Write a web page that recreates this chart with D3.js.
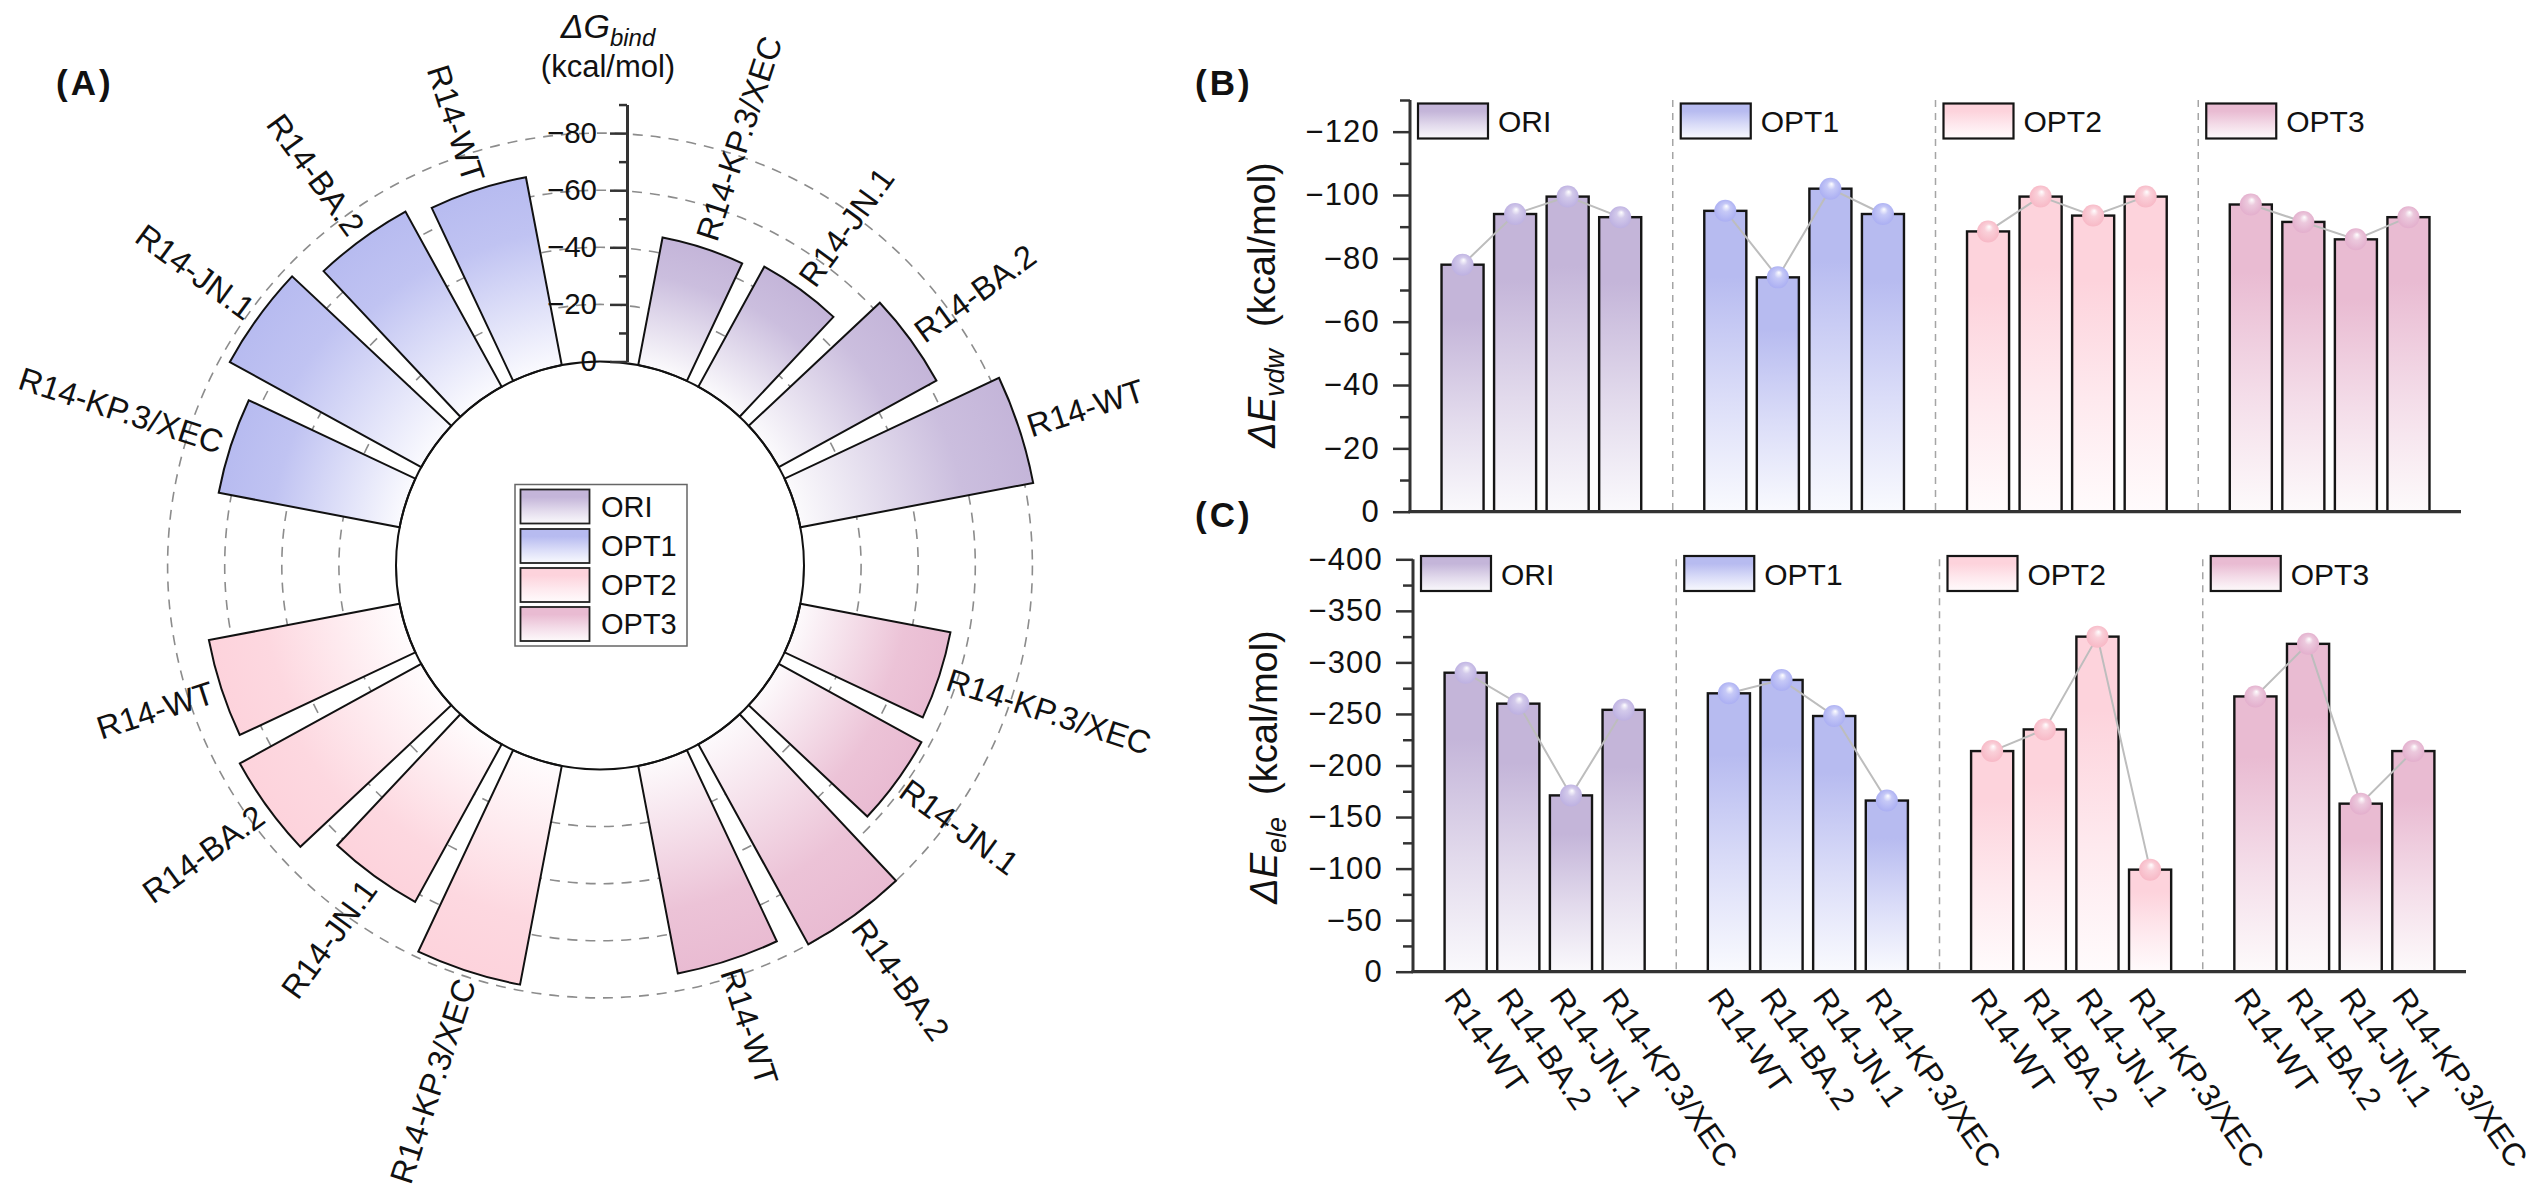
<!DOCTYPE html>
<html><head><meta charset="utf-8">
<script src="https://cdn.jsdelivr.net/npm/d3@7"></script>
<style>body{margin:0;background:#fff;} svg text{font-family:"Liberation Sans", Arial, Helvetica, sans-serif;}</style>
</head><body>
<svg id="chart" width="2538" height="1192" xmlns="http://www.w3.org/2000/svg"></svg>
<script>
// ---------------- DATA ----------------
const groups = ["ORI", "OPT1", "OPT2", "OPT3"];
const variants = ["R14-WT", "R14-BA.2", "R14-JN.1", "R14-KP.3/XEC"];
const groupColors = ["#c4b5d9", "#b7bbf0", "#fdd3dc", "#e9bbd2"];
const pointColors = ["#bbaee0", "#a8acf2", "#f7b6c4", "#e2accb"];

// Panel A: ΔG_bind (kcal/mol)
const dGbind_ORI  = [-83, -63, -48, -45.5];
const dGbind_OPT1 = [-67, -70, -76.5, -64.5];
const dGbind_OPT2 = [-68, -72.5, -63, -78];
const dGbind_OPT3 = [-74, -80, -57, -53.5];
const ticksA_major = [0, -20, -40, -60, -80];
const ticksA_minor = [-10, -30, -50, -70, -90];
const gridA = [-20, -40, -60, -80];

// Panel B: ΔE_vdw (kcal/mol)
const dEvdw_ORI  = [-78, -94, -99.5, -93];
const dEvdw_OPT1 = [-95, -74, -102, -94];
const dEvdw_OPT2 = [-88.5, -99.5, -93.5, -99.5];
const dEvdw_OPT3 = [-97, -91.5, -86, -93];
const ticksB_major = [0, -20, -40, -60, -80, -100, -120];
const ticksB_minor = [-10, -30, -50, -70, -90, -110, -130];

// Panel C: ΔE_ele (kcal/mol)
const dEele_ORI  = [-290, -260, -171, -254];
const dEele_OPT1 = [-270, -283, -248, -166];
const dEele_OPT2 = [-214, -235, -325, -99];
const dEele_OPT3 = [-267, -318, -163, -214];
const ticksC_major = [0, -50, -100, -150, -200, -250, -300, -350, -400];
const ticksC_minor = [-25, -75, -125, -175, -225, -275, -325, -375];

// ---------------- SETUP ----------------
const svg = d3.select("#chart");
const defs = svg.append("defs");
const mix = (c, t) => d3.interpolateRgb(c, "#ffffff")(t);
const slotOf = (g, j) => 1 + g * 5 + j;
const seriesA = [dGbind_ORI, dGbind_OPT1, dGbind_OPT2, dGbind_OPT3];
const seriesB = [dEvdw_ORI, dEvdw_OPT1, dEvdw_OPT2, dEvdw_OPT3];
const seriesC = [dEele_ORI, dEele_OPT1, dEele_OPT2, dEele_OPT3];

// vertical gradients (legend swatches, bars) and sphere gradients (points)
groupColors.forEach((c, g) => {
  const lg = defs.append("linearGradient").attr("id", "vg" + g)
    .attr("x1", 0).attr("y1", 0).attr("x2", 0).attr("y2", 1);
  lg.append("stop").attr("offset", 0).attr("stop-color", c);
  lg.append("stop").attr("offset", 0.22).attr("stop-color", c);
  lg.append("stop").attr("offset", 0.62).attr("stop-color", mix(c, 0.5));
  lg.append("stop").attr("offset", 1).attr("stop-color", mix(c, 0.92));
  const rg = defs.append("radialGradient").attr("id", "sph" + g)
    .attr("cx", 0.5).attr("cy", 0.5).attr("r", 0.55).attr("fx", 0.55).attr("fy", 0.28);
  rg.append("stop").attr("offset", 0).attr("stop-color", "#ffffff");
  rg.append("stop").attr("offset", 0.35).attr("stop-color", mix(pointColors[g], 0.35));
  rg.append("stop").attr("offset", 1).attr("stop-color", pointColors[g]);
});

// ---------------- PANEL A (polar) ----------------
const cx = 600, cy = 565.5, r0 = 204, kA = 2.855;
const rA = d3.scaleLinear().domain([0, -90]).range([r0, r0 + 90 * kA]);
const angA = d3.scaleLinear().domain([0, 20]).range([Math.PI / 2, Math.PI / 2 - 2 * Math.PI]);
const gA = svg.append("g").attr("transform", `translate(${cx},${cy})`);

gA.selectAll("circle.grid").data(gridA).join("circle").attr("class", "grid")
  .attr("r", d => rA(d)).attr("fill", "none").attr("stroke", "#8c8c8c")
  .attr("stroke-width", 1.6).attr("stroke-dasharray", "10,8");

const barsA = [];
groups.forEach((gn, g) => variants.forEach((vn, j) => barsA.push({ g, j, name: vn, val: seriesA[g][j], p: slotOf(g, j) })));
barsA.forEach((d, i) => {
  const ro = rA(d.val), c = groupColors[d.g];
  const rg = defs.append("radialGradient").attr("id", "pa" + i).attr("gradientUnits", "userSpaceOnUse")
    .attr("cx", 0).attr("cy", 0).attr("r", ro);
  rg.append("stop").attr("offset", r0 / ro).attr("stop-color", mix(c, 0.93));
  rg.append("stop").attr("offset", (r0 + 0.7 * (ro - r0)) / ro).attr("stop-color", mix(c, 0.12));
  rg.append("stop").attr("offset", 1).attr("stop-color", c);
});
const arc = d3.arc();
gA.selectAll("path.bar").data(barsA).join("path").attr("class", "bar")
  .attr("d", d => {
    const a1 = angA(d.p - 0.4), a2 = angA(d.p + 0.4);
    return arc({ innerRadius: r0, outerRadius: rA(d.val), startAngle: Math.min(a1, a2), endAngle: Math.max(a1, a2) });
  })
  .attr("fill", (d, i) => `url(#pa${i})`).attr("stroke", "#111").attr("stroke-width", 2);

gA.append("circle").attr("r", r0).attr("fill", "none").attr("stroke", "#111").attr("stroke-width", 2);

gA.selectAll("text.lab").data(barsA).join("text").attr("class", "lab")
  .each(function (d) {
    const th = d.p * Math.PI / 10, R = rA(d.val) + 9;
    const x = R * Math.cos(th), y = -R * Math.sin(th);
    const deg = d.p * 18, right = Math.cos(th) > 0;
    d3.select(this).attr("transform", `translate(${x},${y}) rotate(${right ? -deg : 180 - deg})`)
      .attr("text-anchor", right ? "start" : "end");
  })
  .attr("dy", "0.36em").attr("font-size", 32.5).attr("fill", "#111").text(d => d.name);

// radial axis
const axX = 627;
const yA = d3.scaleLinear().domain([0, -90]).range([cy - r0, cy - r0 - 90 * kA]);
const axA1 = svg.append("g").attr("transform", `translate(${axX},0)`)
  .call(d3.axisLeft(yA).tickValues(ticksA_minor).tickSize(8).tickSizeOuter(0).tickFormat(""));
axA1.select(".domain").remove();
const axA2 = svg.append("g").attr("transform", `translate(${axX},0)`)
  .call(d3.axisLeft(yA).tickValues(ticksA_major).tickSize(17).tickSizeOuter(0).tickPadding(13).tickFormat(d3.format("d")));
[axA1, axA2].forEach(a => {
  a.attr("font-family", null);
  a.selectAll("line").attr("stroke", "#333").attr("stroke-width", 2.5);
  a.selectAll(".domain").attr("stroke", "#333").attr("stroke-width", 3);
  a.selectAll("text").attr("font-size", 29.5).attr("fill", "#111");
});

const tA = svg.append("text").attr("x", 608).attr("y", 38).attr("text-anchor", "middle").attr("fill", "#111");
tA.append("tspan").attr("font-size", 34).attr("font-style", "italic").text("ΔG");
tA.append("tspan").attr("font-size", 24).attr("font-style", "italic").attr("dy", 8).text("bind");
svg.append("text").attr("x", 608).attr("y", 77).attr("text-anchor", "middle").attr("font-size", 31).attr("fill", "#111").text("(kcal/mol)");

// polar legend
const lgA = svg.append("g");
lgA.append("rect").attr("x", 515).attr("y", 484.5).attr("width", 172).attr("height", 161.5)
  .attr("fill", "#fff").attr("stroke", "#666").attr("stroke-width", 1.5);
const lgRows = [489.5, 529, 568, 607];
groups.forEach((gn, g) => {
  lgA.append("rect").attr("x", 520.5).attr("y", lgRows[g]).attr("width", 69).attr("height", 34)
    .attr("fill", `url(#vg${g})`).attr("stroke", "#222").attr("stroke-width", 1.8);
  lgA.append("text").attr("x", 601).attr("y", lgRows[g] + 27).attr("font-size", 29).attr("fill", "#111").text(gn);
});

// panel labels
const panelLab = (t, x, y) => svg.append("text").attr("x", x).attr("y", y).attr("font-size", 35)
  .attr("font-weight", "bold").attr("letter-spacing", 3).attr("fill", "#111").text(t);
panelLab("(A)", 56, 95);
panelLab("(B)", 1195, 95);
panelLab("(C)", 1195, 527);

// ---------------- PANELS B & C ----------------
function barPanel(cfg) {
  const xS = d3.scaleLinear().domain([0, 20]).range([cfg.x0, cfg.x1]);
  const yS = d3.scaleLinear().domain([0, cfg.vmax]).range([cfg.yBase, cfg.yTop]);
  const bw = 0.8 * (xS(1) - xS(0));
  const g = svg.append("g");
  g.selectAll("line.sep").data([5, 10, 15]).join("line")
    .attr("x1", d => xS(d)).attr("x2", d => xS(d)).attr("y1", cfg.yTop).attr("y2", cfg.yBase)
    .attr("stroke", "#a5a5a5").attr("stroke-width", 1.5).attr("stroke-dasharray", "7,6");
  const bars = [];
  groups.forEach((gn, gi) => variants.forEach((vn, j) => bars.push({ g: gi, j, name: vn, val: cfg.series[gi][j], p: slotOf(gi, j) })));
  g.selectAll("rect.bar").data(bars).join("rect")
    .attr("x", d => xS(d.p) - bw / 2).attr("y", d => yS(d.val))
    .attr("width", bw).attr("height", d => cfg.yBase - yS(d.val))
    .attr("fill", d => `url(#vg${d.g})`).attr("stroke", "#151515").attr("stroke-width", 2.4);
  const line = d3.line().x(d => xS(d.p)).y(d => yS(d.val));
  groups.forEach((gn, gi) => {
    const pts = bars.filter(b => b.g === gi);
    g.append("path").attr("d", line(pts)).attr("fill", "none").attr("stroke", "#bdbdbd").attr("stroke-width", 2);
  });
  g.selectAll("circle.pt").data(bars).join("circle")
    .attr("cx", d => xS(d.p)).attr("cy", d => yS(d.val)).attr("r", 11)
    .attr("fill", d => `url(#sph${d.g})`);
  groups.forEach((gn, gi) => {
    const lx = xS(gi * 5) + 8;
    g.append("rect").attr("x", lx).attr("y", cfg.legY).attr("width", 70).attr("height", 35)
      .attr("fill", `url(#vg${gi})`).attr("stroke", "#151515").attr("stroke-width", 2.2);
    g.append("text").attr("x", lx + 80).attr("y", cfg.legY + 28.5).attr("font-size", 30).attr("fill", "#111").text(gn);
  });
  const a1 = svg.append("g").attr("transform", `translate(${cfg.x0},0)`)
    .call(d3.axisLeft(yS).tickValues(cfg.minor).tickSize(10).tickSizeOuter(0).tickFormat(""));
  a1.select(".domain").remove();
  const a2 = svg.append("g").attr("transform", `translate(${cfg.x0},0)`)
    .call(d3.axisLeft(yS).tickValues(cfg.major).tickSize(17).tickSizeOuter(0).tickPadding(13).tickFormat(d3.format("d")));
  a2.select(".domain").attr("d", `M0,${cfg.yBase}V${cfg.yTop}`);
  [a1, a2].forEach(a => {
    a.attr("font-family", null);
    a.selectAll("line").attr("stroke", "#333").attr("stroke-width", 2.5);
    a.selectAll(".domain").attr("stroke", "#333").attr("stroke-width", 3);
    a.selectAll("text").attr("font-size", 31).attr("letter-spacing", 1.2).attr("fill", "#111");
  });
  svg.append("line").attr("x1", cfg.x0 - 1.5).attr("x2", cfg.x1).attr("y1", cfg.yBase).attr("y2", cfg.yBase)
    .attr("stroke", "#333").attr("stroke-width", 3.2);
  const t = svg.append("text").attr("transform", `translate(${cfg.titleX},${cfg.titleY}) rotate(-90)`)
    .attr("text-anchor", "middle").attr("fill", "#111");
  t.append("tspan").attr("font-size", 38).attr("font-style", "italic").text("ΔE");
  t.append("tspan").attr("font-size", 27).attr("font-style", "italic").attr("dy", 9).text(cfg.sub);
  t.append("tspan").attr("font-size", 38).attr("dy", -9).attr("dx", 22).text("(kcal/mol)");
  if (cfg.xLabels) {
    svg.append("g").selectAll("text").data(bars).join("text")
      .attr("transform", d => `translate(${xS(d.p) - 13},${cfg.yBase + 20}) rotate(55)`)
      .attr("dy", "0.36em").attr("font-size", 32).attr("fill", "#111").text(d => d.name);
  }
}

barPanel({ x0: 1410, x1: 2461, yBase: 511.7, yTop: 100, vmax: -130, series: seriesB,
  major: ticksB_major, minor: ticksB_minor, legY: 103.5, sub: "vdw", titleX: 1275, titleY: 305, xLabels: false });
barPanel({ x0: 1413, x1: 2466, yBase: 971.7, yTop: 559.3, vmax: -400, series: seriesC,
  major: ticksC_major, minor: ticksC_minor, legY: 556, sub: "ele", titleX: 1277, titleY: 767, xLabels: true });
</script>
</body></html>
